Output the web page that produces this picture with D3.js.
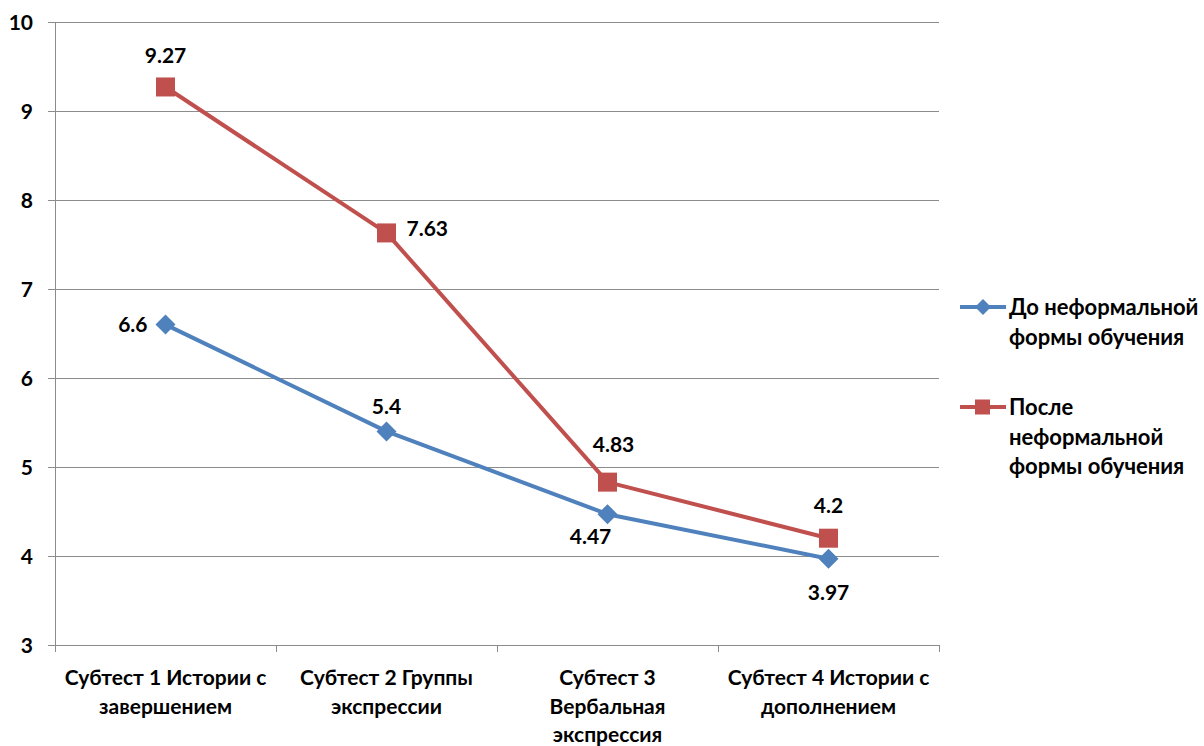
<!DOCTYPE html>
<html><head><meta charset="utf-8">
<script src="https://cdn.jsdelivr.net/npm/d3@7"></script>
<style>body{margin:0;background:#fff}svg{display:block;font-family:Lato,"Open Sans",sans-serif;font-weight:bold}</style>
</head><body><svg id="c" width="1204" height="746"></svg>
<script>
const categories = [["Субтест 1 Истории с","завершением"],["Субтест 2 Группы","экспрессии"],["Субтест 3","Вербальная","экспрессия"],["Субтест 4 Истории с","дополнением"]];
const seriesNames = [["До неформальной","формы обучения"],["После","неформальной","формы обучения"]];
const before = [6.6, 5.4, 4.47, 3.97];
const after = [9.27, 7.63, 4.83, 4.2];
const yTicks = [3,4,5,6,7,8,9,10];
const colors = ["#4F81BD","#C0504D"];

const svg = d3.select("#c");
const x = d3.scaleBand().domain(d3.range(categories.length)).range([55,939]);
const y = d3.scaleLinear().domain([3,10]).range([645,22]);
const cx = i => x(i)+x.bandwidth()/2;

svg.append("g").selectAll("line").data(yTicks.filter(t=>t>3)).join("line")
  .attr("x1",55).attr("x2",939).attr("y1",d=>y(d)).attr("y2",d=>y(d))
  .attr("stroke","#8c8c8c").attr("stroke-width",1).attr("shape-rendering","crispEdges");

const ya = svg.append("g").attr("transform","translate(55,0)")
  .call(d3.axisLeft(y).tickValues(yTicks).tickSize(7).tickFormat(d3.format("d")));
ya.select(".domain").attr("stroke","#8c8c8c").attr("shape-rendering","crispEdges");
ya.selectAll(".tick line").attr("stroke","#8c8c8c").attr("shape-rendering","crispEdges");
ya.selectAll("text").attr("font-size",21).attr("font-family","Lato").attr("font-weight","bold").attr("fill","#000").attr("x",-22).attr("dy","0.35em");

const xa = svg.append("g").attr("transform","translate(0,645)")
  .call(d3.axisBottom(x).tickValues([]).tickSizeOuter(0));
xa.select(".domain").attr("stroke","#8c8c8c").attr("shape-rendering","crispEdges");
svg.append("g").selectAll("line").data(d3.range(categories.length+1)).join("line")
  .attr("x1",i=> i<categories.length ? x(i) : x.range()[1]).attr("x2",i=> i<categories.length ? x(i) : x.range()[1])
  .attr("y1",645).attr("y2",652).attr("stroke","#8c8c8c").attr("shape-rendering","crispEdges");
const cl = svg.append("g").selectAll("text").data(categories).join("text")
  .attr("text-anchor","middle").attr("font-size",21).attr("fill","#000");
cl.each(function(lines,i){
  d3.select(this).selectAll("tspan").data(lines).join("tspan")
    .attr("x",cx(i)).attr("y",(d,j)=>685+j*28.5).text(d=>d);
});

const line = d3.line().x((d,i)=>cx(i)).y(d=>y(d));
[before, after].forEach((s,k)=>{
  svg.append("path").datum(s).attr("d",line).attr("fill","none")
    .attr("stroke",colors[k]).attr("stroke-width",4).attr("stroke-linejoin","round");
});
svg.append("g").selectAll("path").data(before).join("path")
  .attr("transform",(d,i)=>`translate(${cx(i)},${y(d)})`)
  .attr("d","M0,-10L10,0L0,10L-10,0Z").attr("fill",colors[0]);
svg.append("g").selectAll("rect").data(after).join("rect")
  .attr("x",(d,i)=>cx(i)-9.5).attr("y",d=>y(d)-9.5).attr("width",19).attr("height",19)
  .attr("fill",colors[1]);

const blueOff = [[-18,7,"end"],[0,-17,"middle"],[-17,30,"middle"],[0,41,"middle"]];
const redOff = [[0,-24,"middle"],[20,3,"start"],[6,-30,"middle"],[0,-25,"middle"]];
svg.append("g").selectAll("text").data(before).join("text")
  .attr("x",(d,i)=>cx(i)+blueOff[i][0]).attr("y",(d,i)=>y(d)+blueOff[i][1])
  .attr("text-anchor",(d,i)=>blueOff[i][2]).attr("font-size",21).attr("fill","#000").text(d=>d);
svg.append("g").selectAll("text").data(after).join("text")
  .attr("x",(d,i)=>cx(i)+redOff[i][0]).attr("y",(d,i)=>y(d)+redOff[i][1])
  .attr("text-anchor",(d,i)=>redOff[i][2]).attr("font-size",21).attr("fill","#000").text(d=>d);

const legY = [307, 407];
seriesNames.forEach((lines,k)=>{
  const g = svg.append("g");
  g.append("line").attr("x1",960).attr("x2",1006).attr("y1",legY[k]).attr("y2",legY[k])
    .attr("stroke",colors[k]).attr("stroke-width",4);
  if(k===0) g.append("path").attr("transform",`translate(983,${legY[k]})`).attr("d","M0,-8L8,0L0,8L-8,0Z").attr("fill",colors[0]);
  else g.append("rect").attr("x",975).attr("y",legY[k]-7.5).attr("width",15).attr("height",15).attr("fill",colors[1]);
  g.append("text").attr("font-size",22).attr("fill","#000").selectAll("tspan").data(lines).join("tspan")
    .attr("x",1009).attr("y",(d,j)=>legY[k]+8+j*29.5).text(d=>d);
});
</script></body></html>
